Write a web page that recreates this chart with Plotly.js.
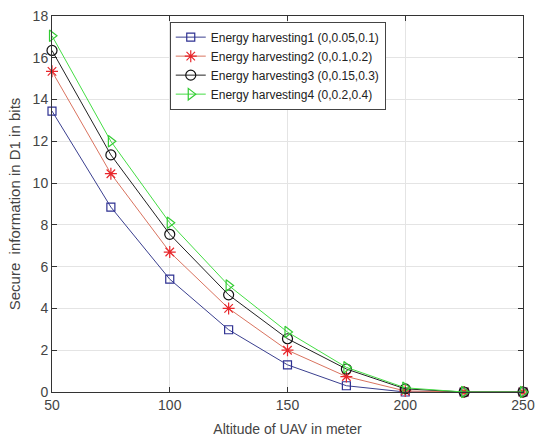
<!DOCTYPE html>
<html><head><meta charset="utf-8">
<script src="https://cdn.plot.ly/plotly-3.0.1.min.js"></script>
<style>html,body{margin:0;padding:0;background:#fff}</style>
</head><body>
<div id="chart" style="width:537px;height:440px"></div>
<script>
const altitude = [50, 75, 100, 125, 150, 175, 200, 225, 250];
const eh1 = [13.45, 8.85, 5.4, 2.98, 1.3, 0.3, 0.0, 0.0, 0.0];
const eh2 = [15.35, 10.45, 6.7, 4.0, 2.0, 0.74, 0.05, 0.0, 0.0];
const eh3 = [16.35, 11.35, 7.55, 4.65, 2.55, 1.1, 0.15, 0.0, 0.0];
const eh4 = [17.05, 12.0, 8.1, 5.1, 2.87, 1.18, 0.2, 0.0, 0.0];
const xTicks = [50, 100, 150, 200, 250];
const names = ['Energy harvesting1 (0,0.05,0.1)', 'Energy harvesting2 (0,0.1,0.2)',
               'Energy harvesting3 (0,0.15,0.3)', 'Energy harvesting4 (0,0.2,0.4)'];
const series = [eh1, eh2, eh3, eh4];
const lineColors = ['#3a3f8f', '#d9735f', '#222222', '#44dd44'];
const markerColors = ['#2e3192', '#e8262b', '#111111', '#33cc33'];
const symbols = ['square-open', 'asterisk-open', 'circle-open', 'triangle-right-open'];
const sizes = [8, 10, 10, 10];

const traces = series.map((s, i) => ({
  x: altitude, y: s, name: names[i], type: 'scatter', mode: 'lines+markers',
  cliponaxis: false,
  line: {color: lineColors[i], width: 1},
  marker: {symbol: symbols[i], size: sizes[i], color: markerColors[i], line: {color: markerColors[i], width: 1.2}}
}));

const axisCommon = {
  showline: true, linecolor: '#333', linewidth: 1, mirror: 'ticks',
  ticks: 'inside', ticklen: 5, tickcolor: '#333',
  showgrid: true, gridcolor: '#e4e4e4', gridwidth: 1, zeroline: false,
  ticklabeloverflow: 'allow',
  tickfont: {family: 'Liberation Sans, Arial, sans-serif', size: 14, color: '#444'}
};

const layout = {
  width: 537, height: 440,
  margin: {l: 52, r: 14, t: 16, b: 48},
  paper_bgcolor: '#fff', plot_bgcolor: '#fff',
  showlegend: true,
  legend: {x: 0.25, y: 0.985, xanchor: 'left', yanchor: 'top',
    bgcolor: '#fff', bordercolor: '#444', borderwidth: 1,
    font: {family: 'Liberation Sans, Arial, sans-serif', size: 12, color: '#222'},
    tracegroupgap: 0, itemwidth: 30},
  xaxis: Object.assign({}, axisCommon, {range: [50, 250], tickvals: xTicks, ticktext: xTicks.map(String),
    title: {text: 'Altitude of UAV in meter', standoff: 12,
      font: {family: 'Liberation Sans, Arial, sans-serif', size: 14, color: '#444'}}}),
  yaxis: Object.assign({}, axisCommon, {range: [0, 18], dtick: 2,
    title: {text: 'Secure  information in D1 in bits', standoff: 8,
      font: {family: 'Liberation Sans, Arial, sans-serif', size: 15, color: '#444'}}})
};

Plotly.newPlot('chart', traces, layout, {displayModeBar: false, staticPlot: true});
</script>
</body></html>
